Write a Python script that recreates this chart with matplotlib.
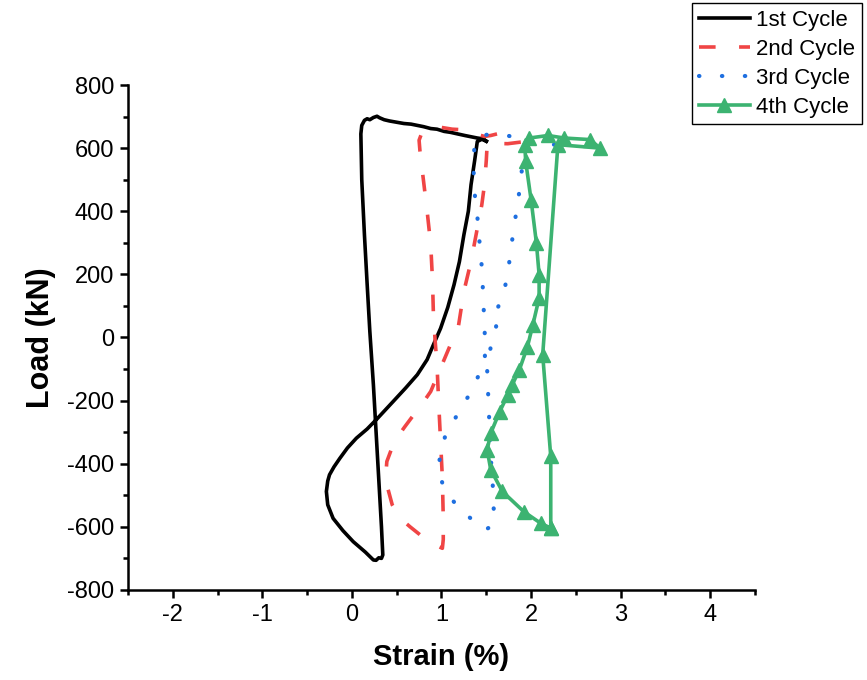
import matplotlib
matplotlib.use("Agg")
import matplotlib.pyplot as plt
from matplotlib.ticker import MultipleLocator

plt.rcParams['font.family'] = ['Liberation Sans', 'DejaVu Sans']

# ---- data: strain (%) vs load (kN) for each loading cycle ----
cycle1_strain = [1.50, 1.47, 1.40, 1.33, 1.26, 1.18, 1.10, 1.03, 0.95, 0.88, 0.80, 0.73,
                 0.66, 0.58, 0.50, 0.42, 0.36, 0.31, 0.28, 0.24, 0.20, 0.17, 0.14, 0.11,
                 0.10, 0.11, 0.14, 0.17, 0.20, 0.24, 0.27, 0.30, 0.33, 0.345, 0.33, 0.30,
                 0.27, 0.24, 0.15, 0.015, -0.10, -0.21, -0.27, -0.285, -0.27, -0.25, -0.20,
                 -0.135, -0.05, 0.05, 0.17, 0.28, 0.46, 0.60, 0.73, 0.84, 0.91, 0.99, 1.07,
                 1.14, 1.20, 1.25, 1.30, 1.33, 1.37, 1.40, 1.45, 1.50]
cycle1_load = [622, 629, 632, 636, 640, 645, 650, 653, 660, 662, 668, 672,
               676, 678, 682, 686, 690, 696, 701, 697, 690, 693, 688, 672,
               645, 500, 325, 170, 20, -150, -300, -450, -600, -689, -700, -698,
               -706, -705, -680, -647, -612, -573, -530, -488, -455, -435, -410,
               -383, -350, -319, -290, -258, -203, -160, -118, -70, -23, 29, 95,
               167, 240, 325, 400, 484, 560, 621, 628, 622]

cycle2_strain = [1.62, 1.55, 1.48, 1.38, 1.25, 1.12, 0.99, 0.88, 0.78, 0.75, 0.76, 0.80,
                 0.84, 0.88, 0.90, 0.91, 0.93, 0.95, 0.97, 0.99, 1.01, 1.02, 1.02, 1.01,
                 0.95, 0.85, 0.76, 0.65, 0.54, 0.45, 0.39, 0.38, 0.39, 0.44, 0.50, 0.59,
                 0.69, 0.79, 0.88, 0.99, 1.10, 1.18, 1.25, 1.33, 1.40, 1.45, 1.48, 1.50,
                 1.51, 1.57, 1.74, 1.91]
cycle2_load = [645, 640, 637, 645, 658, 660, 666, 660, 648, 625, 590, 495,
               400, 294, 180, 72, -13, -87, -213, -330, -446, -573, -640, -668,
               -660, -645, -625, -600, -573, -530, -467, -430, -393, -355, -319, -283,
               -245, -208, -171, -97, -23, 19, 146, 241, 346, 420, 484, 560,
               611, 615, 614, 620]

cycle3_strain = [2.26, 2.07, 1.89, 1.73, 1.57, 1.45, 1.37, 1.36, 1.36, 1.39, 1.41, 1.43,
                 1.45, 1.46, 1.47, 1.48, 1.49, 1.48, 1.40, 1.31, 1.21, 1.12, 1.04, 0.99,
                 0.97, 0.99, 1.02, 1.10, 1.21, 1.36, 1.49, 1.59, 1.58, 1.57, 1.55, 1.53,
                 1.52, 1.51, 1.55, 1.60, 1.61, 1.61, 1.65, 1.62, 1.70, 1.74, 1.78, 1.80,
                 1.84, 1.87, 1.90, 1.92]
cycle3_load = [611, 616, 630, 640, 645, 640, 622, 560, 479, 412, 355, 283,
               224, 167, 100, 33, -34, -81, -129, -182, -226, -274, -314, -367,
               -404, -441, -472, -507, -546, -581, -610, -591, -522, -451, -380, -240,
               -171, -102, -29, 19, 35, 67, 75, 88, 144, 209, 280, 339,
               403, 465, 537, 600]

cycle4_strain = [2.22, 2.11, 1.92, 1.68, 1.55, 1.51, 1.55, 1.65, 1.74, 1.79, 1.87, 1.96,
                 2.02, 2.09, 2.09, 2.06, 2.00, 1.94, 1.93, 1.98, 2.19, 2.37, 2.66, 2.77,
                 2.30, 2.13, 2.22, 2.22]
cycle4_load = [-604, -589, -552, -488, -419, -356, -303, -235, -182, -150, -102, -29,
               40, 125, 199, 299, 437, 558, 611, 632, 640, 632, 627, 600,
               611, -55, -377, -604]

labels = ["1st Cycle", "2nd Cycle", "3rd Cycle", "4th Cycle"]
x_ticks = [-2, -1, 0, 1, 2, 3, 4]
y_ticks = [-800, -600, -400, -200, 0, 200, 400, 600, 800]

fig = plt.figure(figsize=(8.67, 6.8), dpi=100)
ax = fig.add_axes([0.1476, 0.1324, 0.7232, 0.7426])

ax.plot(cycle1_strain, cycle1_load, color='black', lw=2.6, label=labels[0],
        solid_joinstyle='round')
ax.plot(cycle2_strain, cycle2_load, color='#F04545', lw=2.6, linestyle=(0, (4.6, 6.5)),
        label=labels[1])
ax.plot(cycle3_strain, cycle3_load, color='#1E6FE0', lw=3.0, linestyle=(0, (0.1, 5.4)),
        dash_capstyle='round', label=labels[2])
ax.plot(cycle4_strain, cycle4_load, color='#3CB371', lw=2.6, marker='^', markersize=10.5,
        label=labels[3])

ax.set_xlim(-2.5, 4.5)
ax.set_ylim(-800, 800)
ax.set_xticks(x_ticks)
ax.set_yticks(y_ticks)
ax.set_xticklabels([str(v) for v in x_ticks])
ax.set_yticklabels([str(v) for v in y_ticks])
ax.xaxis.set_minor_locator(MultipleLocator(0.5))
ax.yaxis.set_minor_locator(MultipleLocator(100))

for side in ('top', 'right'):
    ax.spines[side].set_visible(False)
for side in ('left', 'bottom'):
    ax.spines[side].set_linewidth(1.8)

ax.tick_params(which='major', direction='out', length=6, width=1.8, labelsize=17, pad=4)
ax.tick_params(which='minor', direction='out', length=3.5, width=1.8)

ax.set_xlabel("Strain (%)", fontsize=21, fontweight='bold', labelpad=12)
ax.set_ylabel("Load (kN)", fontsize=22, fontweight='bold', labelpad=8)

leg = ax.legend(loc='upper right', bbox_to_anchor=(0.9942, 0.9956),
                bbox_transform=fig.transFigure, fontsize=16, frameon=True,
                fancybox=False, edgecolor='black', framealpha=1,
                handlelength=2.3, handletextpad=0.3, labelspacing=0.36,
                borderpad=0.3, borderaxespad=0)
leg.get_frame().set_linewidth(1.0)

fig.savefig("out.png", dpi=100)
